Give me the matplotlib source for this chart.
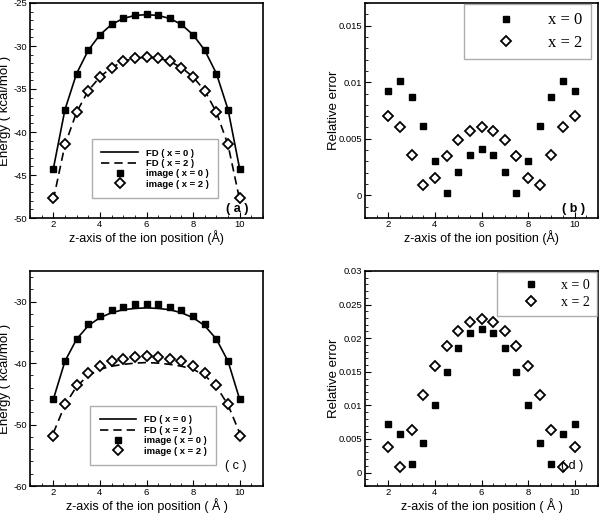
import matplotlib.pyplot as plt
from matplotlib.ticker import MultipleLocator

z = [2, 2.5, 3, 3.5, 4, 4.5, 5, 5.5, 6, 6.5, 7, 7.5, 8, 8.5, 9, 9.5, 10]

# (a) energies
img_a0 = [-44.3, -37.4, -33.2, -30.5, -28.7, -27.5, -26.8, -26.4, -26.3,
          -26.4, -26.8, -27.5, -28.7, -30.5, -33.2, -37.4, -44.3]
fd_a0 = [-44.3, -37.4, -33.2, -30.5, -28.7, -27.5, -26.8, -26.45, -26.35,
         -26.45, -26.8, -27.5, -28.7, -30.5, -33.2, -37.4, -44.3]
img_a2 = [-47.7, -41.4, -37.7, -35.2, -33.6, -32.5, -31.8, -31.4, -31.3,
          -31.4, -31.8, -32.5, -33.6, -35.2, -37.7, -41.4, -47.7]
fd_a2 = [-47.9, -41.5, -37.7, -35.2, -33.6, -32.5, -31.8, -31.4, -31.3,
         -31.4, -31.8, -32.5, -33.6, -35.2, -37.7, -41.5, -47.9]

# (b) relative errors
err_b0 = [0.0092, 0.0101, 0.0087, 0.0061, 0.0030, 0.0002, 0.0021, 0.0036, 0.0041,
          0.0036, 0.0021, 0.0002, 0.0030, 0.0061, 0.0087, 0.0101, 0.0092]
err_b2 = [0.0070, 0.0060, 0.0036, 0.0009, 0.0015, 0.0035, 0.0049, 0.0057, 0.0060,
          0.0057, 0.0049, 0.0035, 0.0015, 0.0009, 0.0036, 0.0060, 0.0070]

# (c) energies
img_c0 = [-45.9, -39.6, -36.0, -33.7, -32.3, -31.35, -30.8, -30.4, -30.3,
          -30.4, -30.8, -31.35, -32.3, -33.7, -36.0, -39.6, -45.9]
fd_c0 = [-45.9, -39.7, -36.1, -33.9, -32.6, -31.8, -31.3, -31.1, -31.0,
         -31.1, -31.3, -31.8, -32.6, -33.9, -36.1, -39.7, -45.9]
img_c2 = [-51.9, -46.6, -43.5, -41.6, -40.5, -39.7, -39.3, -39.0, -38.9,
          -39.0, -39.3, -39.7, -40.5, -41.6, -43.5, -46.6, -51.9]
fd_c2 = [-51.4, -46.8, -43.8, -42.0, -41.0, -40.5, -40.2, -40.0, -39.9,
         -40.0, -40.2, -40.5, -41.0, -42.0, -43.8, -46.8, -51.4]

# (d) relative errors
err_d0 = [0.0073, 0.0057, 0.0013, 0.0044, 0.0100, 0.0149, 0.0185, 0.0207, 0.0214,
          0.0207, 0.0185, 0.0149, 0.0100, 0.0044, 0.0013, 0.0057, 0.0073]
err_d2 = [0.0038, 0.0008, 0.0064, 0.0115, 0.0158, 0.0189, 0.0211, 0.0224, 0.0228,
          0.0224, 0.0211, 0.0189, 0.0158, 0.0115, 0.0064, 0.0008, 0.0038]

plt.rcParams['font.family'] = ['Liberation Sans', 'DejaVu Sans']

fig = plt.figure(figsize=(6, 5.13), dpi=100)
W, H = 600, 513


def make_ax(left, top, right, bottom):
    return fig.add_axes([left / W, 1 - bottom / H, (right - left) / W, (bottom - top) / H])


def style(ax, ylim, ymajor, yminor, ylabel, xlabel, ylab_x, xlab_y):
    ax.set_xlim(1, 11)
    ax.set_ylim(*ylim)
    ax.xaxis.set_major_locator(MultipleLocator(2))
    ax.xaxis.set_minor_locator(MultipleLocator(0.5))
    ax.yaxis.set_major_locator(MultipleLocator(ymajor))
    ax.yaxis.set_minor_locator(MultipleLocator(yminor))
    ax.yaxis.set_major_formatter(plt.FuncFormatter(lambda v, p: f'{v:g}'))
    ax.tick_params(which='both', direction='in', top=False, right=False, labelsize=6.8, pad=2)
    ax.tick_params(axis='x', pad=1.5)
    ax.tick_params(which='major', length=4)
    ax.tick_params(which='minor', length=2)
    for s in ax.spines.values():
        s.set_linewidth(1.2)
    ax.set_ylabel(ylabel, fontsize=9.5)
    ax.yaxis.set_label_coords(ylab_x, 0.5)
    ax.set_xlabel(xlabel, fontsize=9)
    ax.xaxis.set_label_coords(0.5, xlab_y)


sq = dict(marker='s', ms=4.5, color='black', ls='none')
dm = dict(marker='D', ms=5, mfc='white', mec='black', mew=1.3, ls='none')

# (a)
ax = make_ax(30, 3, 263, 218)
ax.plot(z, fd_a0, color='black', lw=1.2, label='FD ( x = 0 )')
ax.plot(z, fd_a2, color='black', lw=1.2, ls=(0, (5, 3)), label='FD ( x = 2 )')
ax.plot(z, img_a0, label='image ( x = 0 )', **sq)
ax.plot(z, img_a2, label='image ( x = 2 )', **dm)
style(ax, (-50, -25), 5, 1, 'Energy ( kcal/mol )', 'z-axis of the ion position (Å)', -0.083, -0.057)
ax.legend(loc='upper left', bbox_to_anchor=(0.266, 0.367), prop={'weight': 'bold', 'size': 6.8},
          handlelength=3.9, handletextpad=0.8, labelspacing=0.15, borderpad=1.0,
          fancybox=False, edgecolor='#999999', borderaxespad=0)
ax.text(0.936, 0.042, '( a )', transform=ax.transAxes, ha='right', va='center',
        fontsize=9, fontweight='bold')

# (b)
ax = make_ax(365, 3, 598, 218)
ax.plot(z, err_b0, label='x = 0', **sq)
ax.plot(z, err_b2, label='x = 2', **dm)
style(ax, (-0.002, 0.017), 0.005, 0.001, 'Relative error', 'z-axis of the ion position (Å)', -0.108, -0.057)
ax.legend(loc='upper right', bbox_to_anchor=(0.97, 0.995),
          prop={'family': ['Liberation Serif', 'DejaVu Serif'], 'size': 12},
          handlelength=4, handletextpad=0.55, labelspacing=0.4, borderpad=0.5,
          fancybox=False, edgecolor='#999999', borderaxespad=0)
ax.text(0.944, 0.042, '( b )', transform=ax.transAxes, ha='right', va='center',
        fontsize=9, fontweight='bold')

# (c)
ax = make_ax(30, 271, 263, 486)
ax.plot(z, fd_c0, color='black', lw=1.2, label='FD ( x = 0 )')
ax.plot(z, fd_c2, color='black', lw=1.2, ls=(0, (5, 3)), label='FD ( x = 2 )')
ax.plot(z, img_c0, label='image ( x = 0 )', **sq)
ax.plot(z, img_c2, label='image ( x = 2 )', **dm)
style(ax, (-60, -25), 10, 2, 'Energy ( kcal/mol )', 'z-axis of the ion position ( Å )', -0.083, -0.057)
ax.legend(loc='upper left', bbox_to_anchor=(0.258, 0.372), prop={'weight': 'bold', 'size': 6.8},
          handlelength=3.9, handletextpad=0.8, labelspacing=0.15, borderpad=1.0,
          fancybox=False, edgecolor='#999999', borderaxespad=0)
ax.text(0.93, 0.093, '( c )', transform=ax.transAxes, ha='right', va='center', fontsize=9)

# (d)
ax = make_ax(365, 271, 598, 486)
ax.plot(z, err_d0, label='x = 0', **sq)
ax.plot(z, err_d2, label='x = 2', **dm)
style(ax, (-0.002, 0.03), 0.005, 0.001, 'Relative error', 'z-axis of the ion position ( Å )', -0.108, -0.057)
ax.legend(loc='upper right', bbox_to_anchor=(0.996, 0.995),
          prop={'family': ['Liberation Serif', 'DejaVu Serif'], 'size': 10},
          handlelength=3.9, handletextpad=0.2, labelspacing=0.3, borderpad=0.5,
          fancybox=False, edgecolor='#999999', borderaxespad=0)
ax.text(0.936, 0.093, '( d )', transform=ax.transAxes, ha='right', va='center', fontsize=9)

fig.savefig('out.png', dpi=100)
